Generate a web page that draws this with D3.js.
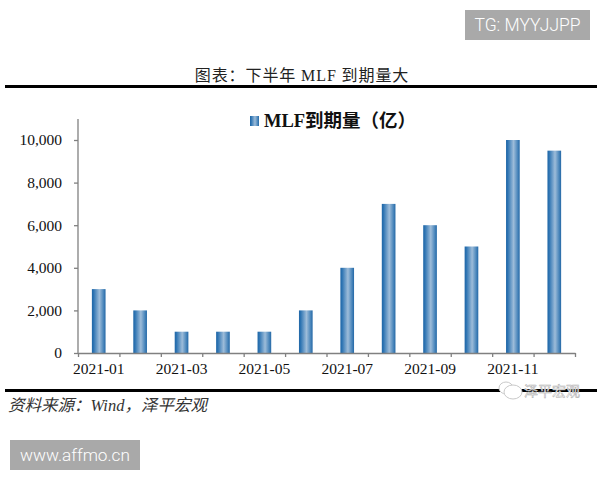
<!DOCTYPE html>
<html><head><meta charset="utf-8">
<script src="https://cdn.jsdelivr.net/npm/d3@7/dist/d3.min.js"></script>
<style>html,body{margin:0;padding:0;background:#fff}svg{display:block}</style>
</head><body><svg id="c" width="600" height="480"></svg>
<script>
const months=["2021-01","2021-02","2021-03","2021-04","2021-05","2021-06","2021-07","2021-08","2021-09","2021-10","2021-11","2021-12"];
const mlfValues=[3000,2000,1000,1000,1000,2000,4000,7000,6000,5000,10000,9500];
const yTicks=[0,2000,4000,6000,8000,10000];
const xLabels=["2021-01","2021-03","2021-05","2021-07","2021-09","2021-11"];
const titleText="图表：下半年 MLF 到期量大";
const legendText="MLF到期量（亿）";
const sourceText="资料来源：Wind，泽平宏观";

const serif="'Liberation Serif','Noto Sans CJK SC',serif";
const cjk="'Liberation Serif','Noto Sans CJK SC',serif";
const svg=d3.select("#c");
const defs=svg.append("defs");
const g=defs.append("linearGradient").attr("id","bar").attr("x1",0).attr("x2",1).attr("y1",0).attr("y2",0);
[[0,"#1f66a6"],[0.12,"#2c73b2"],[0.55,"#9dbcd9"],[0.85,"#4a86bb"],[1,"#2468a6"]].forEach(d=>g.append("stop").attr("offset",d[0]).attr("stop-color",d[1]));

const L=78,R=575,T=119,B=353;
const x=d3.scaleBand().domain(months).range([L,R]).paddingInner(0.67).paddingOuter(0.335);
const y=d3.scaleLinear().domain([0,10000]).range([B,140]);
const xEdge=d3.scaleLinear().domain([0,12]).range([L,R]);

// TG badge
svg.append("rect").attr("x",465).attr("y",10).attr("width",125).attr("height",30).attr("fill","#a9a9a9");
svg.append("text").attr("x",527.5).attr("y",31).attr("text-anchor","middle").attr("fill","#fff")
  .attr("font-family","Roboto,'Liberation Sans',sans-serif").attr("font-weight",300).attr("font-size",17.5).text("TG: MYYJJPP");

// title + rules
svg.append("text").attr("x",302).attr("y",81).attr("text-anchor","middle").attr("fill","#222")
  .attr("font-family",cjk).attr("font-size",16).attr("letter-spacing",0.9).text(titleText);
svg.append("line").attr("x1",5).attr("x2",597).attr("y1",86.5).attr("y2",86.5).attr("stroke","#000").attr("stroke-width",3);
svg.append("line").attr("x1",5).attr("x2",597).attr("y1",390.5).attr("y2",390.5).attr("stroke","#000").attr("stroke-width",3);

// legend
svg.append("rect").attr("x",250).attr("y",116).attr("width",9).attr("height",10).attr("fill","url(#bar)");
svg.append("text").attr("x",264).attr("y",127).attr("fill","#111").attr("font-family",cjk)
  .attr("font-size",18.5).attr("font-weight",700).text(legendText);

// bars
svg.append("g").selectAll("rect").data(months).join("rect")
  .attr("x",d=>x(d)).attr("width",x.bandwidth())
  .attr("y",(d,i)=>y(mlfValues[i])).attr("height",(d,i)=>B-y(mlfValues[i]))
  .attr("fill","url(#bar)");

// y axis
const ya=svg.append("g").attr("transform",`translate(${L},0)`)
  .call(d3.axisLeft(y).tickValues(yTicks).tickFormat(d3.format(",")).tickSize(4).tickPadding(12));
ya.select(".domain").attr("d",`M0,${T}V${B}`);
// x axis ticks on month boundaries
const xa=svg.append("g").attr("transform",`translate(0,${B})`)
  .call(d3.axisBottom(xEdge).tickValues(d3.range(13)).tickFormat("").tickSize(4).tickSizeOuter(0));
// x labels centred in their month band
const xl=svg.append("g").attr("transform",`translate(0,${B})`)
  .call(d3.axisBottom(x).tickValues(xLabels).tickSize(0).tickPadding(10));
xl.select(".domain").remove();
[ya,xa].forEach(a=>{a.selectAll(".domain,line").attr("stroke","#808080").attr("stroke-width",1.3);});
[ya,xl].forEach(a=>{a.selectAll("text").attr("font-family",serif).attr("font-size",15.5).attr("fill","#111");});

// source
svg.append("text").attr("x",8).attr("y",411).attr("fill","#333").attr("font-family",cjk)
  .attr("font-size",16.5).attr("font-style","italic").text(sourceText);

// wechat watermark
const w=svg.append("g").attr("fill","#fff").attr("stroke","#c9c9c9").attr("stroke-width",1);
w.append("ellipse").attr("cx",506).attr("cy",388).attr("rx",7).attr("ry",6);
w.append("ellipse").attr("cx",513).attr("cy",392).attr("rx",9).attr("ry",7);
svg.append("text").attr("x",524).attr("y",396).attr("fill","#fff").attr("stroke","#aaa").attr("stroke-width",0.5)
  .attr("font-family","'Noto Sans CJK SC',sans-serif").attr("font-size",14).text("泽平宏观");

// bottom badge
svg.append("rect").attr("x",10).attr("y",440).attr("width",130).attr("height",30).attr("fill","#a9a9a9");
svg.append("text").attr("x",75).attr("y",461).attr("text-anchor","middle").attr("fill","#fff")
  .attr("font-family","Roboto,'Liberation Sans',sans-serif").attr("font-weight",300).attr("font-size",17.2).text("www.affmo.cn");
</script></body></html>
